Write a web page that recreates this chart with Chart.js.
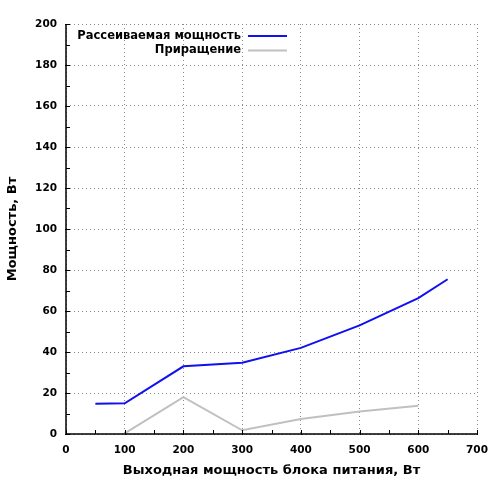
<!DOCTYPE html>
<html>
<head>
<meta charset="utf-8">
<script src="https://cdn.jsdelivr.net/npm/chart.js@4"></script>
<style>
  html, body { margin: 0; padding: 0; background: #fff; }
  #wrap { width: 500px; height: 500px; }
</style>
</head>
<body>
<div id="wrap"><canvas id="myChart" width="500" height="500"></canvas></div>
<script>
// data
var powerX = [50, 100, 200, 300, 400, 500, 600, 650];
var dissipated = [14.8, 15, 33, 34.8, 42, 53, 66.3, 75.5];
var deltaX = [100, 200, 300, 400, 500, 600];
var delta = [0.3, 18, 1.8, 7.3, 11, 13.8];
var seriesNames = ['Рассеиваемая мощность', 'Приращение'];
var xTitle = 'Выходная мощность блока питания, Вт';
var yTitle = 'Мощность, Вт';

function pts(xs, ys) {
    return xs.map(function (x, i) { return { x: x, y: ys[i] }; });
}

var FONT = "'DejaVu Sans', Verdana, sans-serif";

// solid axis lines, small inward ticks + legend drawn inside the plot
var extras = {
    id: 'extras',
    afterDraw: function (chart) {
        var c = chart.ctx, a = chart.chartArea;
        var xs = chart.scales.x, ys = chart.scales.y;
        c.save();
        c.strokeStyle = '#000';
        c.lineWidth = 1.5;
        c.beginPath();
        c.moveTo(a.left, a.top);
        c.lineTo(a.left, a.bottom);
        c.lineTo(a.right, a.bottom);
        c.stroke();
        c.lineWidth = 1;
        c.beginPath();
        for (var v = 0; v <= 700; v += 50) {
            var px = Math.round(xs.getPixelForValue(v)) + 0.5;
            c.moveTo(px, a.bottom + (v % 100 ? 0 : 1));
            c.lineTo(px, a.bottom - 4);
        }
        for (var w = 0; w <= 200; w += 10) {
            var py = Math.round(ys.getPixelForValue(w)) + 0.5;
            c.moveTo(a.left - (w % 20 ? 0 : 1), py);
            c.lineTo(a.left + 4, py);
        }
        c.stroke();

        c.font = 'bold 11.5px ' + FONT;
        c.textAlign = 'right';
        c.textBaseline = 'middle';
        chart.data.datasets.forEach(function (ds, i) {
            var y = 36 + i * 14.5;
            c.fillStyle = '#000';
            c.fillText(ds.label, 241, y);
            c.strokeStyle = ds.borderColor;
            c.lineWidth = 2;
            c.beginPath();
            c.moveTo(248, y);
            c.lineTo(287, y);
            c.stroke();
        });
        c.restore();
    }
};

var ctx = document.getElementById('myChart').getContext('2d');
var myChart = new Chart(ctx, {
    type: 'line',
    data: {
        datasets: [{
            label: seriesNames[0],
            data: pts(powerX, dissipated),
            borderColor: '#1010f0',
            borderWidth: 2,
            pointRadius: 0,
            tension: 0
        }, {
            label: seriesNames[1],
            data: pts(deltaX, delta),
            borderColor: '#c0c0c0',
            borderWidth: 2,
            pointRadius: 0,
            tension: 0
        }]
    },
    options: {
        responsive: false,
        animation: false,
        layout: { padding: { top: 24, right: 23, left: 0, bottom: 0 } },
        plugins: {
            legend: { display: false },
            tooltip: { enabled: false }
        },
        scales: {
            x: {
                type: 'linear',
                min: 0, max: 700,
                ticks: { stepSize: 100, padding: 10, color: '#000', font: { family: FONT, size: 10.5, weight: 'bold' } },
                grid: { color: '#8a8a8a', drawTicks: false },
                border: { display: false, dash: [1, 3] },
                title: { display: true, text: xTitle, color: '#000', padding: { top: 4, bottom: 22 }, font: { family: FONT, size: 13, weight: 'bold' } },
                afterFit: function (s) { s.height = 66; }
            },
            y: {
                min: 0, max: 200,
                ticks: { stepSize: 20, padding: 9, color: '#000', font: { family: FONT, size: 10.5, weight: 'bold' } },
                grid: { color: '#8a8a8a', drawTicks: false },
                border: { display: false, dash: [1, 3] },
                title: { display: true, text: yTitle, color: '#000', padding: { top: 5, bottom: 0 }, font: { family: FONT, size: 13, weight: 'bold' } },
                afterFit: function (s) { s.width = 66; }
            }
        }
    },
    plugins: [extras]
});
</script>
</body>
</html>
